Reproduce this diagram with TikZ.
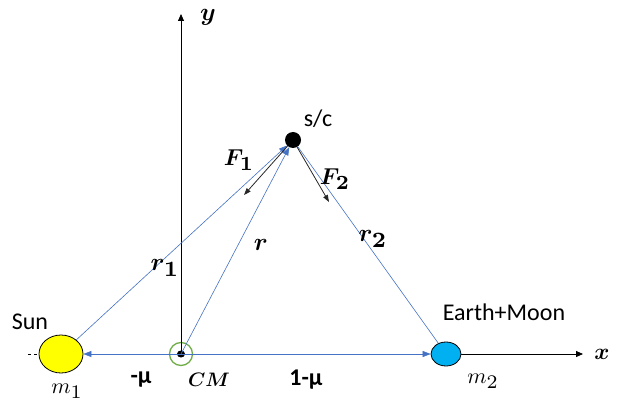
\documentclass[tikz,border=0pt]{standalone}
\usepackage{amsmath,amssymb,bm}
\usepackage{graphicx}
\usepackage{fontspec}
\setmainfont{Carlito}
\usepackage{xcolor}
\usetikzlibrary{arrows.meta,shapes.geometric}
\definecolor{vecblue}{RGB}{68,114,196}
\definecolor{cmgreen}{RGB}{112,173,71}
\newcommand{\lblmath}[2]{\scalebox{#1}{$#2$}}
\newcommand{\lblsub}[1]{\mbox{\scalebox{1.25}{$\scriptstyle#1$}}}
\tikzset{
  body/.style={draw=black,ellipse,inner sep=0pt,line width=0.8pt},
  axis/.style={draw=black,line width=0.8pt,-{Triangle[length=7pt,width=6pt]}},
  radius/.style={draw=vecblue,line width=0.6pt},
  radvec/.style={radius,-{Triangle[length=8pt,width=6pt]}},
  force/.style={draw=black!85,line width=0.8pt,-{Triangle[length=7pt,width=5pt]}},
  txt/.style={font=\fontsize{24}{28}\selectfont,inner sep=0pt},
  boldtxt/.style={font=\fontsize{24}{28}\selectfont\bfseries,inner sep=0pt},
  mathlbl/.style={font=\normalsize,inner sep=0pt}
}
\begin{document}
\begin{tikzpicture}[x=1pt,y=-1pt]
      \useasboundingbox (0,0) rectangle (623,403);
      \node[body,fill={rgb,255:red,255;green,255;blue,0},minimum width=44pt,minimum height=38pt]
        (sun) at (61,354) {};
      \node[body,fill={rgb,255:red,0;green,176;blue,240},minimum width=30pt,minimum height=24pt]
        (earth) at (446,354) {};
      \node[draw=cmgreen,circle,line width=1.3pt,minimum size=23pt,inner sep=0pt]
        (cm) at (181,354) {};
      \node[fill=black,ellipse,minimum width=8pt,minimum height=7pt,inner sep=0pt] (cmdot) at (cm.center) {};
      \node[fill=black,circle,minimum size=16pt,inner sep=0pt] (sc) at (293,140) {};
      \coordinate (ytip) at (181,14);
      \coordinate (xtip) at (583,354);
      \coordinate (xleft) at (28,354);
      \coordinate (f1tip) at (244,195);
      \coordinate (f2tip) at (329,202);
      \draw[axis] (cm.center) -- (ytip);
      \draw[axis] (earth) -- (xtip);
      \draw[line width=0.8pt,dash pattern=on 3pt off 3pt] (xleft) -- (sun);
      \draw[radvec] (cm.center) -- (sun);
      \draw[radvec] (cm.center) -- (earth);
      \draw[radvec] (sun) -- (sc);
      \draw[radvec] (cm.center) -- (sc);
      \draw[radius] (earth) -- (sc);
      \draw[force] (sc) -- (f1tip);
      \draw[force] (sc) -- (f2tip);
      \node[mathlbl] (ylbl) at (208,17) {\lblmath{2.5}{\bm{y}}};
      \node[mathlbl] (xlbl) at (602,354) {\lblmath{2.3}{\bm{x}}};
      \node[txt] (sclbl) at (318,119) {s/c};
      \node[txt] (sunlbl) at (30,322) {Sun};
      \node[txt] (earthlbl) at (504,312) {Earth+Moon};
      \node[mathlbl] (m1lbl) at (67,391) {\lblmath{2.2}{m_{\lblsub{1}}}};
      \node[mathlbl] (m2lbl) at (483,381) {\lblmath{2.2}{m_{\lblsub{2}}}};
      \node[mathlbl] (f1lbl) at (239,160) {\lblmath{2.3}{\bm{F}_{\lblsub{\bm{1}}}}};
      \node[mathlbl] (f2lbl) at (335,179) {\lblmath{2.3}{\bm{F}_{\lblsub{\bm{2}}}}};
      \node[mathlbl] (r1lbl) at (165,268) {\lblmath{2.5}{\bm{r}_{\lblsub{\bm{1}}}}};
      \node[mathlbl] (rlbl) at (261,245) {\lblmath{2.5}{\bm{r}}};
      \node[mathlbl] (r2lbl) at (373,239) {\lblmath{2.5}{\bm{r}_{\lblsub{\bm{2}}}}};
      \node[boldtxt] (mulbl) at (141,380) {-μ};
      \node[mathlbl] (cmlbl) at (209,380) {\scalebox{1.95}{\boldmath$CM$}};
      \node[boldtxt] (onemulbl) at (306,380) {1-μ};
    \end{tikzpicture}
\end{document}
